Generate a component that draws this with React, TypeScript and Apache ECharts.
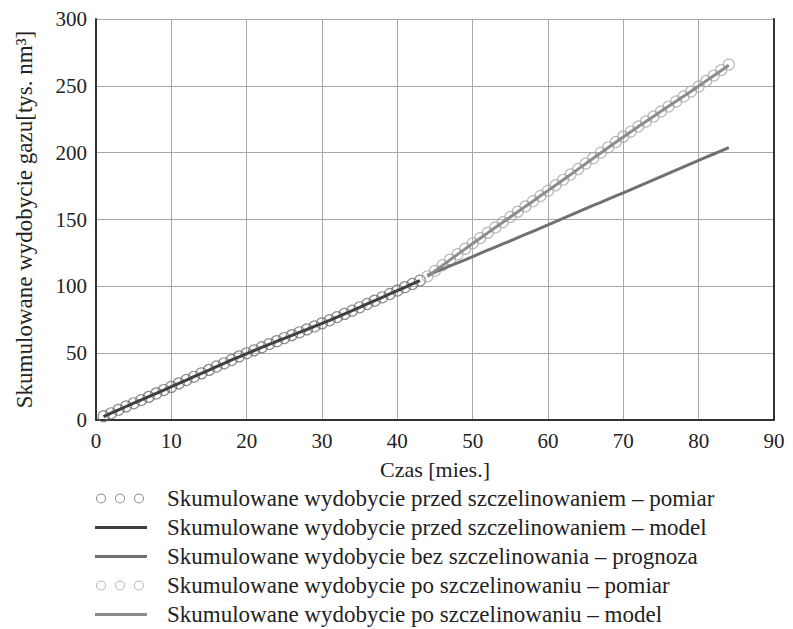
import React, { useEffect, useRef } from "react";
import * as echarts from "echarts";

const seriesNames = [
  "Skumulowane wydobycie przed szczelinowaniem – pomiar",
  "Skumulowane wydobycie przed szczelinowaniem – model",
  "Skumulowane wydobycie bez szczelinowania – prognoza",
  "Skumulowane wydobycie po szczelinowaniu – pomiar",
  "Skumulowane wydobycie po szczelinowaniu – model",
];

const preMonths = [
  1, 2, 3, 4, 5, 6, 7, 8, 9, 10, 11, 12, 13, 14, 15, 16, 17, 18, 19, 20, 21, 22,
  23, 24, 25, 26, 27, 28, 29, 30, 31, 32, 33, 34, 35, 36, 37, 38, 39, 40, 41, 42, 43,
];
const preMeasured = [
  2.8, 5.0, 7.6, 10.2, 12.5, 14.9, 17.3, 19.9, 22.4, 24.8, 27.4, 29.9, 32.3, 34.9,
  37.5, 40.0, 42.4, 44.9, 47.6, 49.9, 52.1, 54.4, 56.8, 59.0, 61.3, 63.5, 65.6, 67.8,
  70.0, 72.3, 74.6, 77.0, 79.4, 81.8, 84.3, 86.8, 89.3, 91.8, 94.3, 96.9, 99.4, 101.8,
  104.3,
];
const preModel = [
  2.6, 5.1, 7.6, 10.1, 12.6, 15.0, 17.5, 20.0, 22.4, 24.9, 27.4, 29.9, 32.4, 34.9,
  37.4, 39.9, 42.4, 44.9, 47.3, 49.7, 52.0, 54.3, 56.6, 58.9, 61.1, 63.3, 65.5, 67.7,
  70.0, 72.3, 74.6, 77.0, 79.4, 81.8, 84.3, 86.8, 89.3, 91.8, 94.3, 96.8, 99.3, 101.8,
  104.2,
];

const postMonths = [
  44, 45, 46, 47, 48, 49, 50, 51, 52, 53, 54, 55, 56, 57, 58, 59, 60, 61, 62, 63, 64,
  65, 66, 67, 68, 69, 70, 71, 72, 73, 74, 75, 76, 77, 78, 79, 80, 81, 82, 83, 84,
];
const postMeasured = [
  107.5, 111.6, 115.8, 120.0, 124.0, 128.1, 132.2, 136.1, 140.0, 144.0, 148.0, 151.9,
  155.9, 159.8, 163.7, 167.6, 171.5, 175.6, 179.7, 183.7, 187.8, 191.9, 195.9, 200.0,
  204.0, 208.0, 212.0, 215.8, 219.6, 223.3, 227.1, 230.8, 234.5, 238.3, 242.0, 245.7,
  249.5, 253.6, 257.7, 261.8, 265.9,
];
const postModel = [
  107.3, 111.5, 115.7, 119.8, 123.9, 128.0, 132.0, 136.0, 140.0, 144.0, 147.9, 151.9,
  155.8, 159.8, 163.7, 167.7, 171.6, 175.6, 179.6, 183.6, 187.7, 191.7, 195.8, 199.8,
  203.8, 207.8, 211.8, 215.7, 219.5, 223.3, 227.1, 230.9, 234.7, 238.4, 242.2, 246.0,
  249.8, 253.7, 257.6, 261.5, 265.4,
];
const forecast = [
  108.3, 110.6, 113.0, 115.3, 117.6, 119.8, 122.2, 124.6, 127.0, 129.4, 131.7, 134.0,
  136.5, 138.8, 141.2, 143.6, 146.0, 148.4, 150.9, 153.3, 155.7, 158.1, 160.5, 162.8,
  165.2, 167.6, 170.0, 172.4, 174.8, 177.2, 179.6, 182.1, 184.5, 187.0, 189.4, 191.8,
  194.3, 196.7, 199.0, 201.3, 203.8,
];

const xTicks = { min: 0, max: 90, interval: 10 };
const yTicks = { min: 0, max: 300, interval: 50 };

const FONT = "Liberation Serif";
const C_PRE_PTS = "#6e6e6e";
const C_PRE_LINE = "#3f3f3f";
const C_FORE = "#707070";
const C_POST_PTS = "#a6a6a6";
const C_POST_LINE = "#8c8c8c";

const ringsIcon =
  "path://M0 0 M67 14 " +
  "M1 7 A5 5 0 1 0 11 7 A5 5 0 1 0 1 7 Z M2 7 A4 4 0 1 1 10 7 A4 4 0 1 1 2 7 Z " +
  "M20 7 A5 5 0 1 0 30 7 A5 5 0 1 0 20 7 Z M21 7 A4 4 0 1 1 29 7 A4 4 0 1 1 21 7 Z " +
  "M39 7 A5 5 0 1 0 49 7 A5 5 0 1 0 39 7 Z M40 7 A4 4 0 1 1 48 7 A4 4 0 1 1 40 7 Z";
const lineIcon = "path://M0 0 M67 14 M0 5.5 L52 5.5 L52 8.5 L0 8.5 Z";

const zip = (xs: number[], ys: number[]) => xs.map((x, i) => [x, ys[i]]);

export default function App() {
  const ref = useRef<HTMLDivElement>(null);
  useEffect(() => {
    if (!ref.current) return;
    const chart = echarts.init(ref.current, undefined, { renderer: "svg" });
    chart.setOption({
      animation: false,
      backgroundColor: "#ffffff",
      textStyle: { fontFamily: FONT },
      grid: { left: 96, right: 19, top: 19, bottom: 209 },
      xAxis: {
        type: "value",
        min: xTicks.min,
        max: xTicks.max,
        interval: xTicks.interval,
        name: "Czas [mies.]",
        nameLocation: "middle",
        nameGap: 38,
        nameTextStyle: { fontFamily: FONT, fontSize: 22, color: "#222" },
        axisLine: { show: true, onZero: false, lineStyle: { color: "#333", width: 2 } },
        axisTick: { show: false },
        axisLabel: { fontFamily: FONT, fontSize: 21, color: "#222", margin: 10 },
        splitLine: { show: true, lineStyle: { color: "#a8a8a8", width: 1 } },
      },
      yAxis: [
        {
          type: "value",
          min: yTicks.min,
          max: yTicks.max,
          interval: yTicks.interval,
          name: "Skumulowane wydobycie gazu[tys. nm³]",
          nameLocation: "middle",
          nameGap: 60,
          nameTextStyle: { fontFamily: FONT, fontSize: 23, color: "#222" },
          axisLine: { show: true, onZero: false, lineStyle: { color: "#333", width: 2 } },
          axisTick: { show: false },
          axisLabel: { fontFamily: FONT, fontSize: 21, color: "#222", margin: 9 },
          splitLine: { show: true, lineStyle: { color: "#a8a8a8", width: 1 } },
        },
        {
          type: "value",
          position: "right",
          min: yTicks.min,
          max: yTicks.max,
          interval: yTicks.interval,
          axisLine: { show: true, onZero: false, lineStyle: { color: "#333", width: 2 } },
          axisTick: { show: false },
          axisLabel: { show: false },
          splitLine: { show: false },
        },
      ],
      legend: {
        orient: "vertical",
        left: 95,
        top: 487,
        padding: 0,
        itemWidth: 67,
        itemHeight: 14,
        itemGap: 6,
        selectedMode: false,
        textStyle: { fontFamily: FONT, fontSize: 23, color: "#222" },
        data: [
          { name: seriesNames[0], icon: ringsIcon, itemStyle: { color: C_PRE_PTS, borderWidth: 0 } },
          { name: seriesNames[1], icon: lineIcon, itemStyle: { color: C_PRE_LINE, borderWidth: 0 } },
          { name: seriesNames[2], icon: lineIcon, itemStyle: { color: C_FORE, borderWidth: 0 } },
          { name: seriesNames[3], icon: ringsIcon, itemStyle: { color: C_POST_PTS, borderWidth: 0 } },
          { name: seriesNames[4], icon: lineIcon, itemStyle: { color: C_POST_LINE, borderWidth: 0 } },
        ],
      },
      series: [
        {
          name: seriesNames[0],
          type: "scatter",
          data: zip(preMonths, preMeasured),
          symbol: "circle",
          symbolSize: 11,
          itemStyle: { color: "rgba(0,0,0,0)", borderColor: C_PRE_PTS, borderWidth: 1.2 },
          z: 2,
        },
        {
          name: seriesNames[1],
          type: "line",
          data: zip(preMonths, preModel),
          showSymbol: false,
          symbol: "none",
          itemStyle: { color: C_PRE_LINE },
          lineStyle: { color: C_PRE_LINE, width: 3 },
          z: 3,
        },
        {
          name: seriesNames[2],
          type: "line",
          data: zip(postMonths, forecast),
          showSymbol: false,
          symbol: "none",
          itemStyle: { color: C_FORE },
          lineStyle: { color: C_FORE, width: 3 },
          z: 3,
        },
        {
          name: seriesNames[3],
          type: "scatter",
          data: zip(postMonths, postMeasured),
          symbol: "circle",
          symbolSize: 11,
          itemStyle: { color: "rgba(0,0,0,0)", borderColor: C_POST_PTS, borderWidth: 1.2 },
          z: 2,
        },
        {
          name: seriesNames[4],
          type: "line",
          data: zip(postMonths, postModel),
          showSymbol: false,
          symbol: "none",
          itemStyle: { color: C_POST_LINE },
          lineStyle: { color: C_POST_LINE, width: 3 },
          z: 3,
        },
      ],
    });
    return () => chart.dispose();
  }, []);
  return (
    <div
      ref={ref}
      style={{ position: "fixed", left: 0, top: 0, width: 793, height: 629, background: "#fff" }}
    />
  );
}
